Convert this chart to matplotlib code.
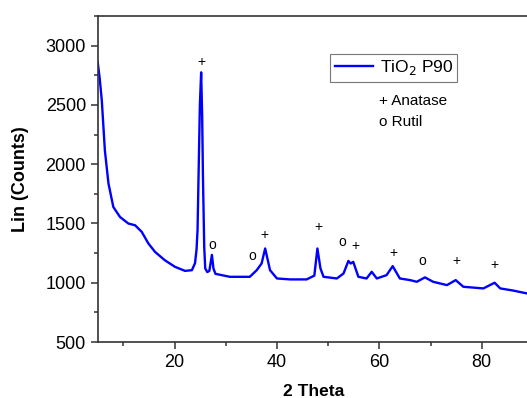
import numpy as np
import matplotlib.pyplot as plt
from matplotlib.ticker import MultipleLocator

plt.rcParams['font.family'] = ['Liberation Sans', 'DejaVu Sans']

# diffractogram (2 theta, counts)
two_theta = [5.0, 5.4, 5.8, 6.4, 7.1, 8.05, 9.35, 11.0, 12.3, 13.6, 14.9, 16.2, 18.1,
             20.1, 22.05, 23.4, 24.0, 24.3, 24.5, 24.7, 24.95, 25.2, 25.4, 25.55, 25.8,
             26.0, 26.4, 26.8, 27.3, 27.6, 28.0, 30.8, 34.7, 36.05, 37.0, 37.7, 38.65,
             40.0, 42.6, 45.8, 47.3, 47.9, 48.5, 49.1, 51.7, 53.0, 53.95, 54.4, 54.9,
             55.9, 57.5, 58.5, 59.5, 61.4, 62.6, 64.0, 66.0, 67.3, 68.9, 70.5, 73.2,
             74.9, 76.4, 80.3, 82.5, 83.6, 86.0, 88.8, 90.0]
counts = [2860, 2720, 2537, 2116, 1838, 1639, 1555, 1499, 1485, 1429, 1331, 1260, 1190,
          1134, 1100, 1106, 1165, 1280, 1450, 1920, 2500, 2775, 2400, 1900, 1300,
          1120, 1090, 1100, 1235, 1120, 1075, 1050, 1050, 1106, 1162, 1289, 1106,
          1036, 1028, 1028, 1060, 1289, 1120, 1050, 1036, 1078, 1184, 1162, 1176,
          1050, 1036, 1092, 1036, 1064, 1140, 1036, 1022, 1008, 1045, 1008, 980,
          1022, 966, 952, 1000, 952, 935, 910, 905]

# phase markers
anatase_x = [25.2, 37.5, 48.1, 55.4, 62.7, 75.0, 82.4]
anatase_y = [2865, 1400, 1470, 1311, 1247, 1182, 1148]
rutil_x = [27.4, 35.1, 52.8, 68.4]
rutil_y = [1317, 1224, 1344, 1182]

fig = plt.figure(figsize=(5.27, 3.98), dpi=100)
ax = fig.add_axes([0.1854, 0.1407, 0.826, 0.819])
ax.plot(two_theta, counts, color='#0000ff', lw=1.7, label='TiO$_2$ P90')

for x, y in zip(anatase_x, anatase_y):
    ax.text(x, y, '+', ha='center', va='center', fontsize=10)
for x, y in zip(rutil_x, rutil_y):
    ax.text(x, y, 'o', ha='center', va='center', fontsize=10)

ax.set_xlim(5, 90)
ax.set_ylim(500, 3250)
ax.xaxis.set_major_locator(MultipleLocator(20))
ax.xaxis.set_minor_locator(MultipleLocator(10))
ax.yaxis.set_major_locator(MultipleLocator(500))
ax.yaxis.set_minor_locator(MultipleLocator(250))
ax.tick_params(which='major', direction='out', length=5, width=1.1, labelsize=13, color='#333333')
ax.tick_params(which='minor', direction='out', length=3, width=1.1, color='#333333')
for s in ax.spines.values():
    s.set_color('#333333')
    s.set_linewidth(1.2)

ax.set_xlabel('2 Theta', fontsize=12.5, fontweight='bold')
ax.set_ylabel('Lin (Counts)', fontsize=13, fontweight='bold')
ax.xaxis.set_label_coords((313 - 97.7) / 435, -(384 - 342) / 326)
ax.yaxis.set_label_coords(-(97.7 - 29) / 435, 0.5)

leg = ax.legend(loc='upper left', bbox_to_anchor=((330 - 97.7) / 435, (342 - 54) / 326),
                fontsize=12.5, frameon=True, fancybox=False, handlelength=2.2,
                borderpad=0.25, handletextpad=0.4, borderaxespad=0)
leg.get_frame().set_edgecolor('#555555')
leg.get_frame().set_linewidth(0.8)

ax.text(60.0, 2530, '+ Anatase', fontsize=11, ha='left', va='center')
ax.text(60.0, 2360, 'o Rutil', fontsize=11, ha='left', va='center')

fig.savefig('out.png', dpi=100)
